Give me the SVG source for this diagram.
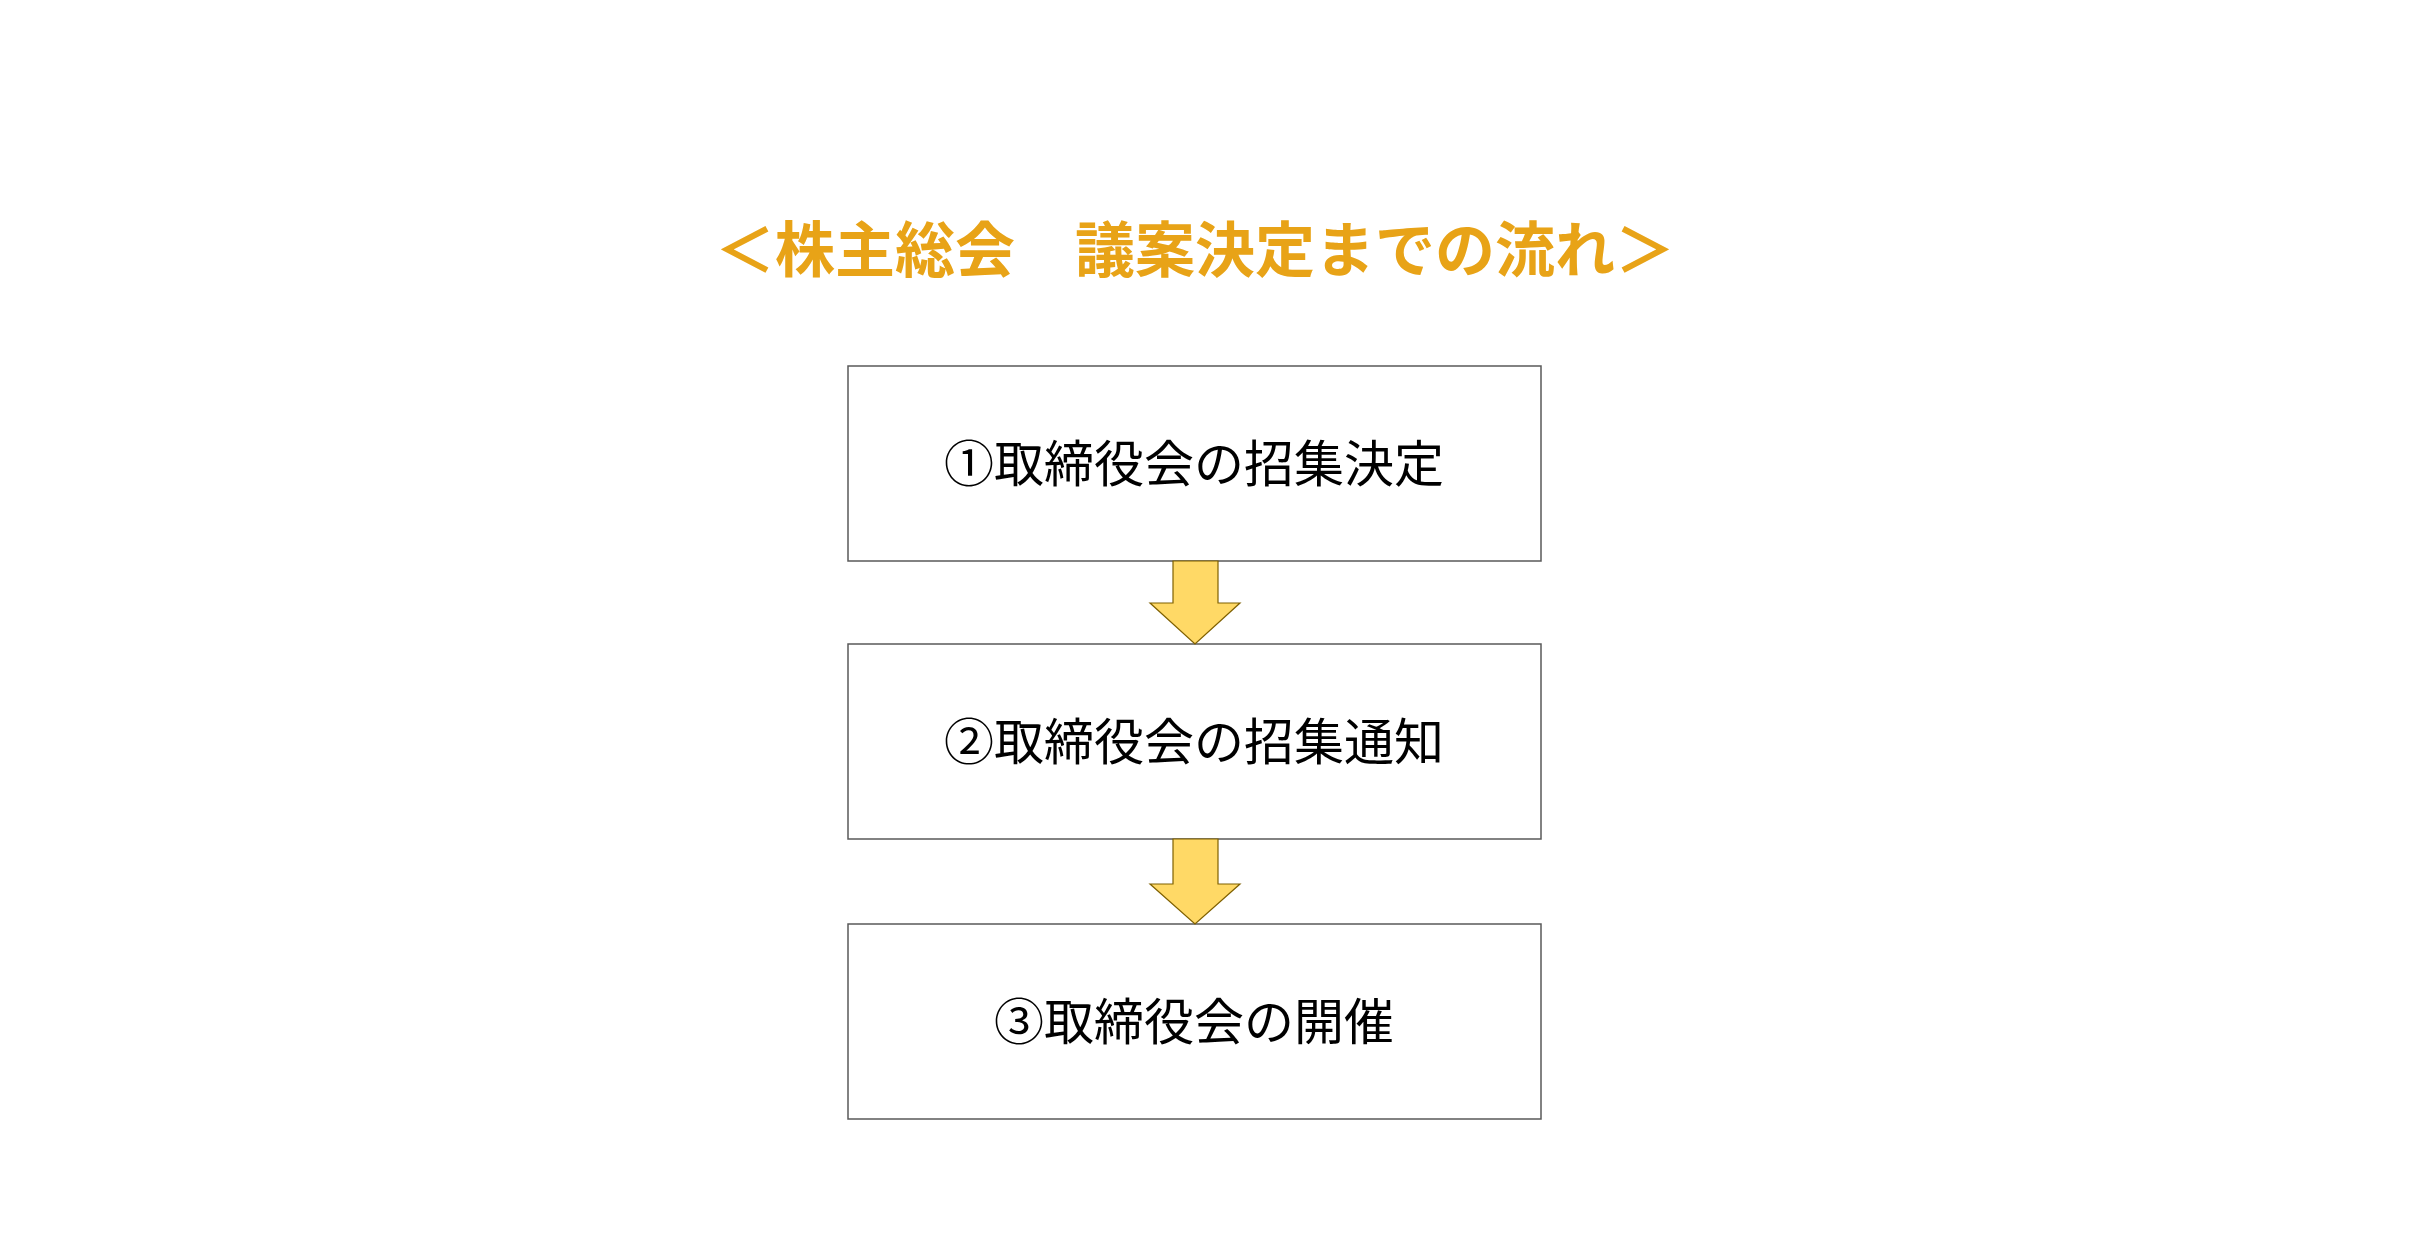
<svg xmlns="http://www.w3.org/2000/svg" width="2411" height="1243" viewBox="0 0 2411 1243">
<style>
.box{fill:#fff;stroke:#595959;stroke-width:1.5}
.lbl{font-family:"Noto Sans CJK JP",sans-serif;font-size:50px;fill:#000;text-anchor:middle}
.arr{fill:#ffd966;stroke:#7f6000;stroke-width:1.2}
</style>
<rect width="2411" height="1243" fill="#fff"/>
<text x="1195" y="272" font-family="Noto Sans CJK JP,sans-serif" font-weight="bold" font-size="60" fill="#e8a317" text-anchor="middle">＜株主総会　議案決定までの流れ＞</text>
<g id="node1"><rect class="box" x="848" y="366" width="693" height="195"/><text class="lbl" x="1194" y="482">①取締役会の招集決定</text></g>
<g id="node2"><rect class="box" x="848" y="644" width="693" height="195"/><text class="lbl" x="1194" y="760">②取締役会の招集通知</text></g>
<g id="node3"><rect class="box" x="848" y="924" width="693" height="195"/><text class="lbl" x="1194" y="1040">③取締役会の開催</text></g>
<g id="connectors">
<path class="arr" d="M1173,561 H1218 V603 H1240 L1195,644 L1150,603 H1173 Z"/>
<path class="arr" d="M1173,839 H1218 V884 H1240 L1195,924 L1150,884 H1173 Z"/>
</g>
</svg>
